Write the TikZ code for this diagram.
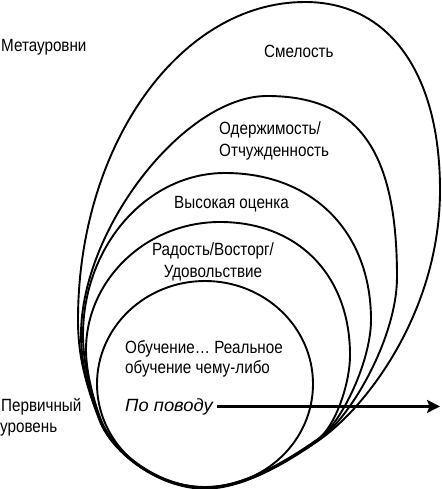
\documentclass[tikz,border=0pt]{standalone}
\usepackage{fontspec}
\setmainfont{Liberation Sans}[FakeStretch=0.86]
\newfontfamily\ppfont{Liberation Sans}[FakeStretch=1.04]
\usetikzlibrary{arrows.meta}
\begin{document}
\begin{tikzpicture}[x=1pt,y=-1pt,
  ring/.style={line width=1.9pt, line join=round},
  lbl/.style={inner sep=0pt, font=\fontsize{17.7}{22}\selectfont},
  arr/.style={line width=2.2pt,-{Stealth[length=13pt,width=13pt,inset=2.5pt]}}]
\useasboundingbox (0,0) rectangle (441,489);
% C5 outermost (Смелость)
\draw[ring] (305,2) .. controls (389,2) and (440,73) .. (440,190)
  .. controls (440,310) and (368,406) .. (318.9,440.2)
  .. controls (290.2,460.2) and (245,488.7) .. (205,488.7)
  .. controls (160,488.7) and (112.6,454) .. (99.6,420.5)
  .. controls (85.2,383.3) and (78,355) .. (78,320)
  .. controls (78,145) and (180,2) .. (305,2) -- cycle;
% C4 (Одержимость)
\draw[ring] (267,96) .. controls (358,96) and (397,150) .. (397,277)
  .. controls (397,337) and (351.4,417) .. (318.6,439.8)
  .. controls (289.9,459.8) and (245,488.2) .. (205,488.2)
  .. controls (160,488.2) and (113.1,453.9) .. (100.1,420.4)
  .. controls (89.3,392.5) and (81,365) .. (81,335)
  .. controls (81,228) and (185,96) .. (267,96) -- cycle;
% C3 (Высокая оценка)
\draw[ring] (225,173) .. controls (312.6,173) and (371,231.8) .. (371,320)
  .. controls (371,360) and (342.6,421.9) .. (318.3,439.4)
  .. controls (289.6,459.4) and (245,487.7) .. (205,487.7)
  .. controls (160,487.7) and (113.5,453.7) .. (100.5,420.2)
  .. controls (90,392) and (83,362) .. (83,335)
  .. controls (83,246) and (147,173) .. (225,173) -- cycle;
% C2 (Радость)
\draw[ring] (220,222) .. controls (298,222) and (350,275.2) .. (350,355)
  .. controls (350,385) and (334.4,427.6) .. (318,439)
  .. controls (289.3,459) and (245,487.2) .. (205,487.2)
  .. controls (160,487.2) and (114,453.5) .. (101,420)
  .. controls (93.8,401.4) and (86,372) .. (86,350)
  .. controls (86,280) and (146,222) .. (220,222) -- cycle;
% C1 innermost
\draw[ring] (205,384) ellipse [x radius=108pt, y radius=103pt];
% labels
\node[lbl, anchor=base west] (meta) at (1,52) {Метауровни};
\node[lbl, anchor=base west] (smel) at (264,58) {Смелость};
\node[lbl, anchor=base west] (oder1) at (219,135) {Одержимость/};
\node[lbl, anchor=base west] (oder2) at (219,157) {Отчужденность};
\node[lbl, anchor=base west] (vys) at (174,208) {Высокая оценка};
\node[lbl, anchor=base] (rad1) at (213,255) {Радость/Восторг/};
\node[lbl, anchor=base] (rad2) at (213,277) {Удовольствие};
\node[lbl, anchor=base west] (obu1) at (125,353) {Обучение… Реальное};
\node[lbl, anchor=base west] (obu2) at (125,373) {обучение чему-либо};
\node[lbl, anchor=base west, font=\fontsize{17.7}{22}\ppfont\itshape] (pp) at (125,411) {По поводу};
\node[lbl, anchor=base west] (perv1) at (1,411) {Первичный};
\node[lbl, anchor=base west] (perv2) at (0,432) {уровень};
\coordinate (ae) at (440,407);
\draw[arr, shorten <=4pt] (pp.east) -- (pp.east -| ae);
\end{tikzpicture}
\end{document}
